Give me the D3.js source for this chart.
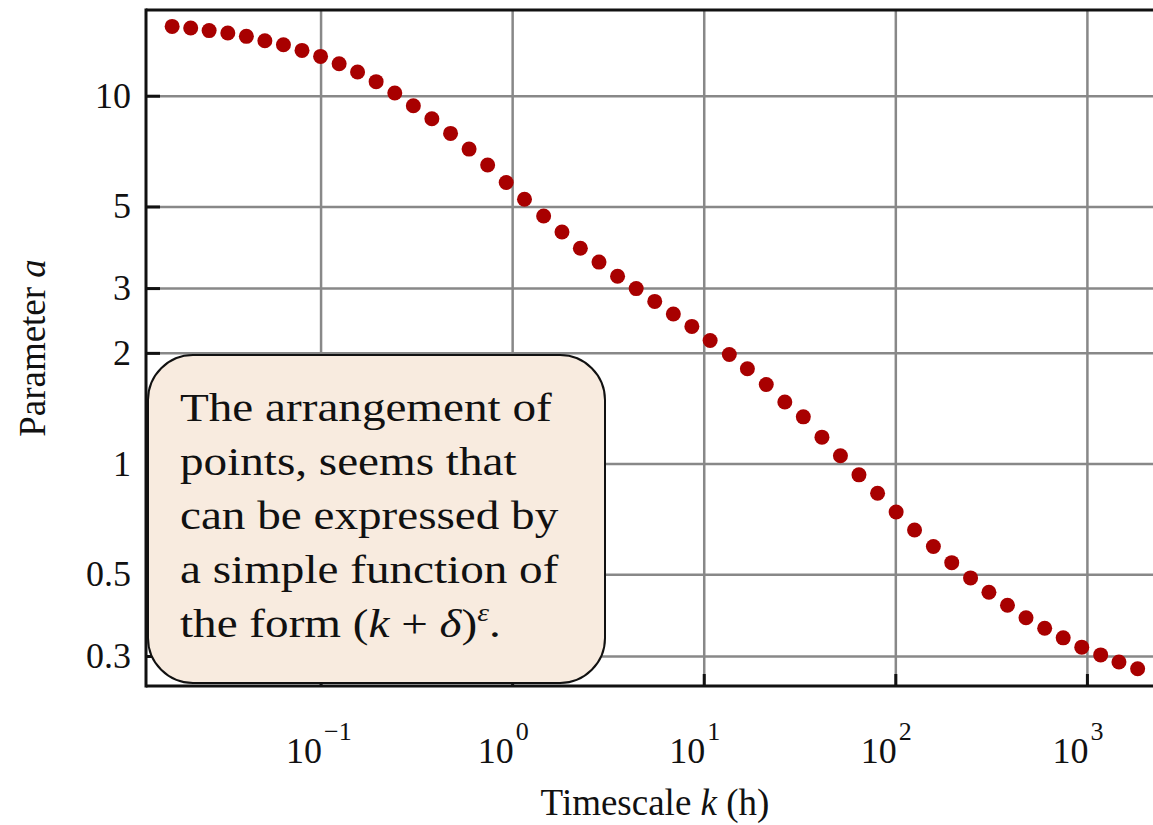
<!DOCTYPE html>
<html>
<head>
<meta charset="utf-8">
<script src="https://cdn.jsdelivr.net/npm/d3@7"></script>
<style>
  body { margin: 0; background: #fff; }
  svg { display: block; }
  .grid line { stroke: #888; stroke-width: 2.5; }
  .grid path { display: none; }
</style>
</head>
<body>
<svg id="chart" width="1153" height="825"></svg>
<script>
// timescale k (h) and fitted parameter a
const kValues = [0.0168, 0.021, 0.0262, 0.0328, 0.041, 0.0512, 0.064, 0.08, 0.1, 0.125,
    0.156, 0.195, 0.244, 0.305, 0.381, 0.477, 0.596, 0.745, 0.931, 1.16,
    1.46, 1.82, 2.27, 2.84, 3.55, 4.44, 5.55, 6.94, 8.67, 10.8,
    13.6, 16.9, 21.2, 26.5, 33.1, 41.4, 51.7, 64.6, 80.8, 101,
    126, 158, 197, 247, 308, 385, 481, 602, 752, 940,
    1180, 1470, 1840];
const aValues = [15.43, 15.28, 15.03, 14.81, 14.50, 14.11, 13.76, 13.28, 12.79, 12.22,
    11.60, 10.92, 10.17, 9.39, 8.66, 7.90, 7.16, 6.48, 5.81, 5.23,
    4.71, 4.26, 3.85, 3.53, 3.23, 2.99, 2.76, 2.55, 2.36, 2.16,
    1.98, 1.81, 1.64, 1.47, 1.34, 1.18, 1.05, 0.932, 0.831, 0.739,
    0.660, 0.595, 0.538, 0.489, 0.447, 0.412, 0.381, 0.357, 0.336, 0.317,
    0.302, 0.289, 0.277];

const xTicks = [0.1, 1, 10, 100, 1000];
const xExponents = ["\u22121", "0", "1", "2", "3"];
const yTicks = [0.3, 0.5, 1, 2, 3, 5, 10];
const yTickLabels = ["0.3", "0.5", "1", "2", "3", "5", "10"];
const noteLines = ["The arrangement of", "points, seems that", "can be expressed by", "a simple function of"];

const svg = d3.select("#chart"),
    width = +svg.attr("width"),
    plotLeft = 146, plotTop = 10, plotBottom = 686, plotRight = width;

const x = d3.scaleLog().domain([0.01227, 2213]).range([plotLeft, plotRight]);
const y = d3.scaleLog().domain([0.2486, 17.1]).range([plotBottom, plotTop]);

const serif = "'Liberation Serif', 'Times New Roman', serif";

// grid
svg.append("g")
    .attr("class", "grid")
    .attr("transform", "translate(0," + plotBottom + ")")
    .call(d3.axisBottom(x).tickValues(xTicks).tickSize(-(plotBottom - plotTop)).tickFormat(""));
svg.append("g")
    .attr("class", "grid")
    .attr("transform", "translate(" + plotLeft + ",0)")
    .call(d3.axisLeft(y).tickValues(yTicks).tickSize(-(plotRight - plotLeft)).tickFormat(""));

// points
svg.append("g")
    .selectAll("circle")
    .data(kValues.map((k, i) => [k, aValues[i]]))
    .enter().append("circle")
    .attr("cx", d => x(d[0]))
    .attr("cy", d => y(d[1]))
    .attr("r", 7.5)
    .attr("fill", "#a80000");

// frame
const frame = svg.append("g").attr("stroke", "#111").attr("stroke-width", 3).attr("fill", "none");
frame.append("line").attr("x1", plotLeft).attr("x2", plotRight).attr("y1", plotTop).attr("y2", plotTop);
frame.append("line").attr("x1", plotLeft).attr("x2", plotRight).attr("y1", plotBottom).attr("y2", plotBottom);
frame.append("line").attr("x1", plotLeft).attr("x2", plotLeft).attr("y1", plotTop - 1.5).attr("y2", plotBottom + 1.5);

// y axis: inward ticks + labels
const yAxis = svg.append("g")
    .attr("transform", "translate(" + plotLeft + ",0)")
    .call(d3.axisLeft(y).tickValues(yTicks).tickSize(-14).tickPadding(15)
        .tickFormat((d, i) => yTickLabels[i]));
yAxis.select(".domain").remove();
yAxis.selectAll(".tick line").attr("stroke", "#111").attr("stroke-width", 3);
yAxis.selectAll(".tick text")
    .attr("font-family", serif)
    .attr("font-size", 36)
    .attr("fill", "#111");

// x axis: inward ticks + 10^n labels
const xAxis = svg.append("g")
    .attr("transform", "translate(0," + plotBottom + ")")
    .call(d3.axisBottom(x).tickValues(xTicks).tickSize(-12).tickFormat(""));
xAxis.select(".domain").remove();
xAxis.selectAll(".tick line").attr("stroke", "#111").attr("stroke-width", 3);
xAxis.selectAll(".tick").each(function (d, i) {
    const t = d3.select(this);
    t.append("text")
        .attr("x", 1)
        .attr("y", 77)
        .attr("text-anchor", "end")
        .attr("font-family", serif)
        .attr("font-size", 36)
        .attr("fill", "#111")
        .text("10");
    t.append("text")
        .attr("x", 3)
        .attr("y", 54)
        .attr("text-anchor", "start")
        .attr("font-family", serif)
        .attr("font-size", 26)
        .attr("fill", "#111")
        .text(xExponents[i]);
});

// axis titles
const xTitle = svg.append("text")
    .attr("x", 655)
    .attr("y", 815)
    .attr("text-anchor", "middle")
    .attr("font-family", serif)
    .attr("font-size", 37)
    .attr("fill", "#111");
xTitle.append("tspan").text("Timescale ");
xTitle.append("tspan").attr("font-style", "italic").text("k");
xTitle.append("tspan").text(" (h)");

const yTitle = svg.append("text")
    .attr("transform", "translate(45,348) rotate(-90)")
    .attr("text-anchor", "middle")
    .attr("font-family", serif)
    .attr("font-size", 37)
    .attr("fill", "#111");
yTitle.append("tspan").text("Parameter ");
yTitle.append("tspan").attr("font-style", "italic").text("a");

// note box
svg.append("rect")
    .attr("x", 148)
    .attr("y", 355)
    .attr("width", 457)
    .attr("height", 328)
    .attr("rx", 45)
    .attr("ry", 45)
    .attr("fill", "#f8ebdf")
    .attr("stroke", "#111")
    .attr("stroke-width", 2);

// wide book-style serif look: stretch the serif horizontally
const note = svg.append("g")
    .attr("transform", "translate(180,0) scale(1.15,1)")
    .attr("font-family", serif)
    .attr("font-size", 41)
    .attr("fill", "#111");
note.selectAll("text")
    .data(noteLines)
    .enter().append("text")
    .attr("x", 0)
    .attr("y", (d, i) => 421 + i * 54)
    .text(d => d);

const last = note.append("text").attr("x", 0).attr("y", 421 + 4 * 54);
last.append("tspan").text("the form (");
last.append("tspan").attr("font-style", "italic").text("k");
last.append("tspan").text(" + ");
last.append("tspan").attr("font-style", "italic").text("\u03b4");
last.append("tspan").text(")");
last.append("tspan").attr("font-style", "italic").attr("font-size", 26).attr("dy", -16).text("\u03b5");
last.append("tspan").attr("dy", 16).text(".");
</script>
</body>
</html>
